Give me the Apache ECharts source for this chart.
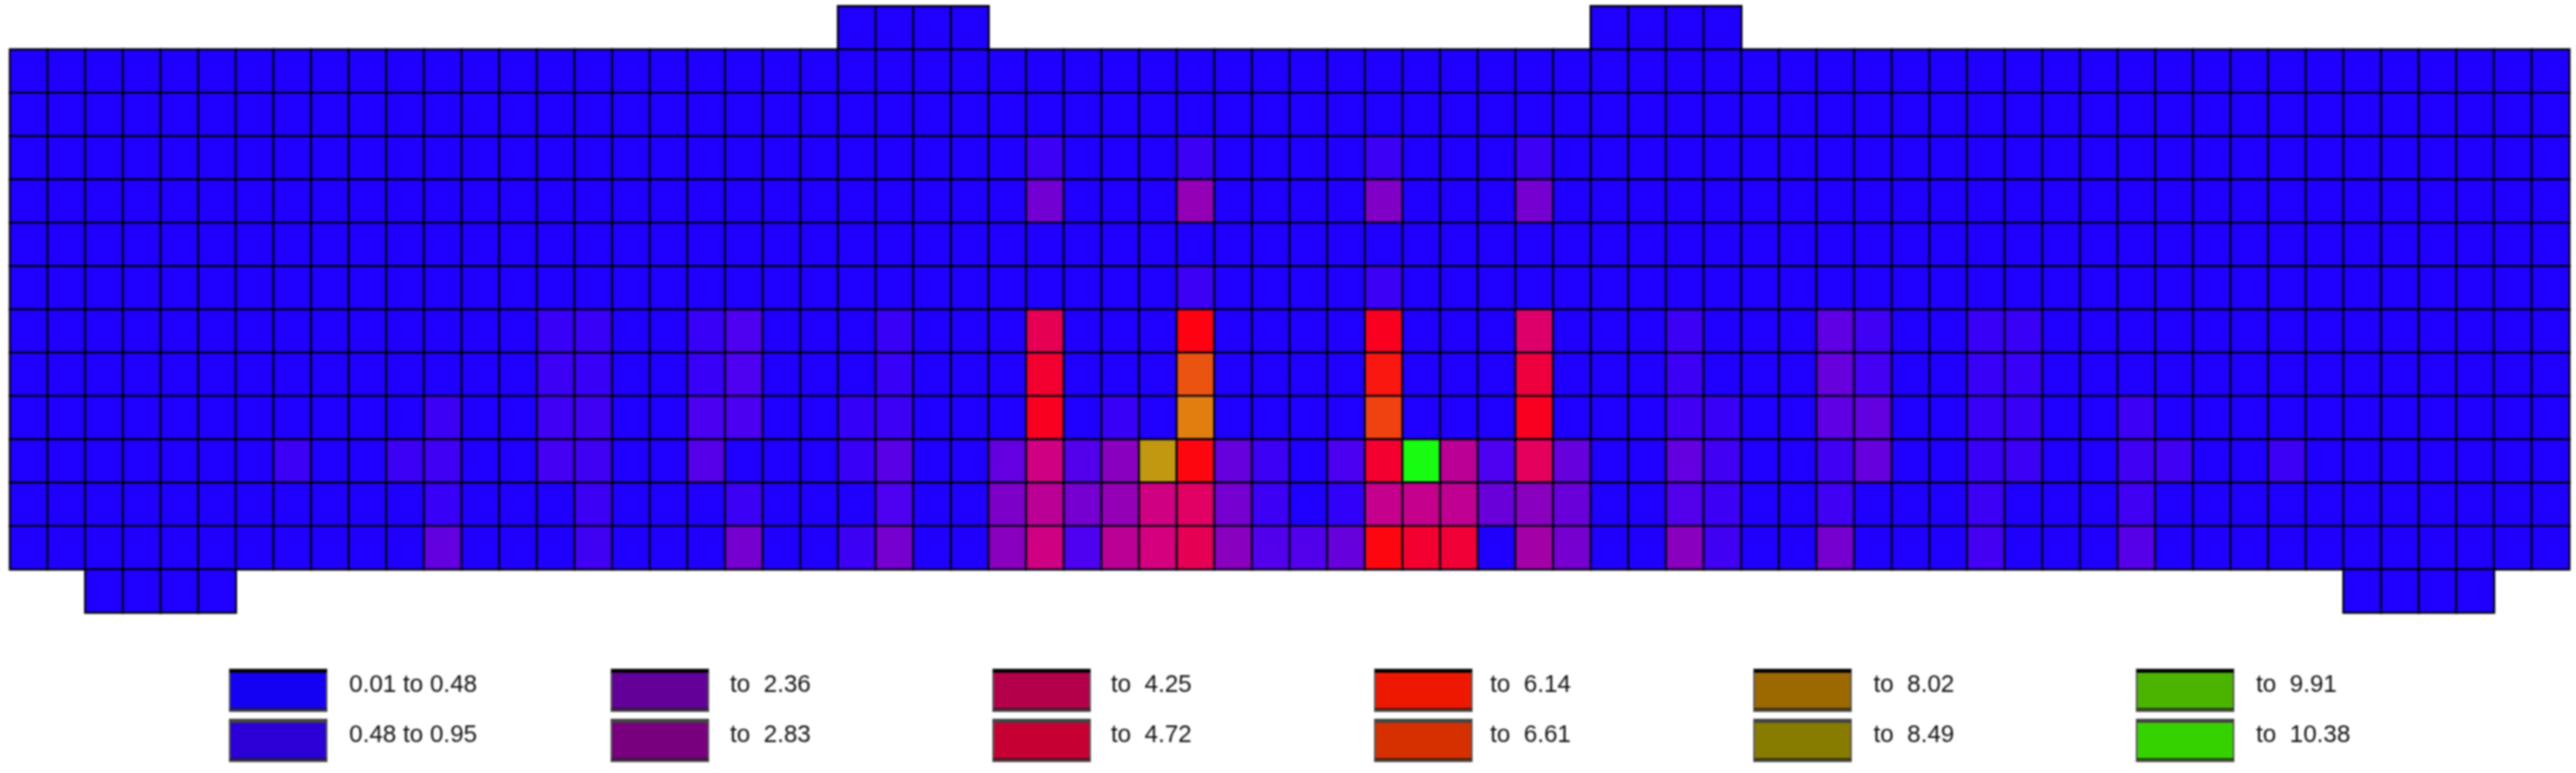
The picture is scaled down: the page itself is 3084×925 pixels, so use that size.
<!DOCTYPE html>
<html>
<head>
<meta charset="utf-8">
<style>html,body{margin:0;padding:0;background:#fff}#c{width:3084px;height:925px;filter:blur(0.8px)}</style>
<script src="https://cdn.jsdelivr.net/npm/echarts@6/dist/echarts.min.js"></script>
</head>
<body>
<div id="c"></div>
<script>
// Finite-element cells: each row lists 68 columns; null = no element there.
const rowTop = [
 null,null,null,null,null,null,null,null,null,null, null,null,null,null,null,null,null,null,null,null,
 null,null,.2,.2,.2,.2,null,null,null,null, null,null,null,null,null,null,null,null,null,null,
 null,null,.2,.2,.2,.2,null,null,null,null, null,null,null,null,null,null,null,null,null,null,
 null,null,null,null,null,null,null,null];
const row0 = [
 .2,.2,.2,.2,.2,.2,.2,.2,.2,.2, .2,.2,.2,.2,.2,.2,.2,.2,.2,.2, .2,.2,.2,.2,.2,.2,.2,.2,.2,.2,
 .2,.2,.2,.2,.2,.2,.2,.2,.2,.2, .2,.2,.2,.2,.2,.2,.2,.2,.2,.2, .2,.2,.2,.2,.2,.2,.2,.2,.2,.2,
 .2,.2,.2,.2,.2,.2,.2,.2];
const row1 = [
 .2,.2,.2,.2,.2,.2,.2,.2,.2,.2, .2,.2,.2,.2,.2,.2,.2,.2,.2,.2, .2,.2,.2,.2,.2,.2,.2,.2,.2,.2,
 .2,.2,.2,.2,.2,.2,.2,.2,.2,.2, .2,.2,.2,.2,.2,.2,.2,.2,.2,.2, .2,.2,.2,.2,.2,.2,.2,.2,.2,.2,
 .2,.2,.2,.2,.2,.2,.2,.2];
const row2 = [
 .2,.2,.2,.2,.2,.2,.2,.2,.2,.2, .2,.2,.2,.2,.2,.2,.2,.2,.2,.2, .2,.2,.2,.2,.2,.2,.2,1,.2,.2,
 .2,1,.2,.2,.2,.2,1,.2,.2,.2, 1,.2,.2,.2,.2,.2,.2,.2,.2,.2, .2,.2,.2,.2,.2,.2,.2,.2,.2,.2,
 .2,.2,.2,.2,.2,.2,.2,.2];
const row3 = [
 .2,.2,.2,.2,.2,.2,.2,.2,.2,.2, .2,.2,.2,.2,.2,.2,.2,.2,.2,.2, .2,.2,.2,.2,.2,.2,.2,2.4,.2,.2,
 .2,3.2,.2,.2,.2,.2,2.8,.2,.2,.2, 2.5,.2,.2,.2,.2,.2,.2,.2,.2,.2, .2,.2,.2,.2,.2,.2,.2,.2,.2,.2,
 .2,.2,.2,.2,.2,.2,.2,.2];
const row4 = [
 .2,.2,.2,.2,.2,.2,.2,.2,.2,.2, .2,.2,.2,.2,.2,.2,.2,.2,.2,.2, .2,.2,.2,.2,.2,.2,.2,.2,.2,.2,
 .2,.2,.2,.2,.2,.2,.2,.2,.2,.2, .2,.2,.2,.2,.2,.2,.2,.2,.2,.2, .2,.2,.2,.2,.2,.2,.2,.2,.2,.2,
 .2,.2,.2,.2,.2,.2,.2,.2];
const row5 = [
 .2,.2,.2,.2,.2,.2,.2,.2,.2,.2, .2,.2,.2,.2,.2,.2,.2,.2,.2,.2, .2,.2,.2,.2,.2,.2,.2,.2,.2,.2,
 .2,1,.2,.2,.2,.2,1,.2,.2,.2, .2,.2,.2,.2,.2,.2,.2,.2,.2,.2, .2,.2,.2,.2,.2,.2,.2,.2,.2,.2,
 .2,.2,.2,.2,.2,.2,.2,.2];
const row6 = [
 .2,.2,.2,.2,.2,.2,.2,.2,.2,.2, .2,.2,.2,.2,.9,.9,.2,.2,.9,1.5, .2,.2,.2,.9,.2,.2,.2,5,.2,.2,
 .2,5.95,.2,.2,.2,.2,5.7,.2,.2,.2, 4.7,.2,.2,.2,1,.2,.2,.2,1.9,1.1, .2,.2,.9,.9,.2,.2,.2,.2,.2,.2,
 .2,.2,.2,.2,.2,.2,.2,.2];
const row7 = [
 .2,.2,.2,.2,.2,.2,.2,.2,.2,.2, .2,.2,.2,.2,1,.9,.2,.2,.9,1.5, .2,.2,.2,.9,.2,.2,.2,5.5,.2,.2,
 .2,6.9,.2,.2,.2,.2,6.2,.2,.2,.2, 5.3,.2,.2,.2,1,.2,.2,.2,2.1,1.2, .2,.2,.9,.9,.2,.2,.2,.2,.2,.2,
 .2,.2,.2,.2,.2,.2,.2,.2];
const row8 = [
 .2,.2,.2,.2,.2,.2,.2,.2,.2,.2, .2,1,.2,.2,1.1,1.1,.2,.2,1.4,1.4, .2,.2,.8,1,.2,.2,.2,5.7,.2,.9,
 .2,7.4,.2,.2,.2,.2,6.7,.2,.2,.2, 5.7,.2,.2,.2,1.1,.9,.2,.2,1.9,2, .2,.2,.9,.9,.2,.2,1,.2,.2,.2,
 .2,.2,.2,.2,.2,.2,.2,.2];
const row9 = [
 .2,.2,.2,.2,.2,.2,.2,1,.2,.2, 1,1.1,.2,.2,1.2,1.1,.2,.2,1.7,.2, .2,.2,.9,1.8,.2,.2,2,4.3,1.6,3,
 8,6,2.1,1,.2,1.4,5.5,10.3,3.9,1.5, 4.9,2.1,.2,.2,2,1.1,.2,.2,1.1,2.1, .2,.2,.9,1,.2,.2,1.1,1.1,.2,.2,
 1,.2,.2,.2,.2,.2,.2,.2];
const row10 = [
 .2,.2,.2,.2,.2,.2,.2,.2,.2,.2, .2,.9,.2,.2,.2,1,.2,.2,.2,1, .2,.2,.2,1.5,.2,.2,2.7,3.9,2.5,3.2,
 4.3,4.8,2.5,1,.2,.7,4.1,4.1,4,2.2, 3,2.2,.2,.2,1.6,1,.2,.2,1.1,.2, .2,.2,1,.2,.2,.2,1.1,.2,.2,.2,
 .2,.2,.2,.2,.2,.2,.2,.2];
const row11 = [
 .2,.2,.2,.2,.2,.2,.2,.2,.2,.2, .2,2,.2,.2,.2,1.1,.2,.2,.2,2.5, .2,.2,1,2.5,.2,.2,3,4.3,1.5,3.9,
 4.4,5,3,1.6,1.6,2.1,6,5.5,5.4,.2, 3.5,2.5,.2,.2,3,1.1,.2,.2,2.5,.2, .2,.2,1.2,.2,.2,.2,1.7,.2,.2,.2,
 .2,.2,.2,.2,.2,.2,.2,.2];
const rowBottom = [
 null,null,.2,.2,.2,.2,null,null,null,null, null,null,null,null,null,null,null,null,null,null,
 null,null,null,null,null,null,null,null,null,null, null,null,null,null,null,null,null,null,null,null,
 null,null,null,null,null,null,null,null,null,null, null,null,null,null,null,null,null,null,null,null,
 null,null,.2,.2,.2,.2,null,null];
const cellRows = [rowTop,row0,row1,row2,row3,row4,row5,row6,row7,row8,row9,row10,row11,rowBottom];

// Legend contents, read column by column.
const legendLabels = [
  ['0.01 to 0.48','0.48 to 0.95'],
  ['to  2.36','to  2.83'],
  ['to  4.25','to  4.72'],
  ['to  6.14','to  6.61'],
  ['to  8.02','to  8.49'],
  ['to  9.91','to  10.38']
];
const legendColors = [
  ['#1400f2','#2a00d6'],
  ['#620098','#78007f'],
  ['#b4004a','#c60032'],
  ['#ee1800','#d63000'],
  ['#9c6800','#887c00'],
  ['#4ab400','#36d200']
];
const swatchX = [275,732,1189,1646,2100,2558];
const textX = [418,874,1330,1784,2243,2701];
const swatchY = [801,861];
const swatchW = 116, swatchH = 50;

// Colour ramp of the cells, blue -> red -> green.
const rampColors = ['#1800ff','#4e00f0','#8800c0','#d8007c','#ff0010','#e08010','#90c010','#10ff10'];
const valueMin = 0.01, valueMax = 10.38;

const data = [];
cellRows.forEach((r,y)=>r.forEach((v,x)=>{ if(v!==null) data.push([x,y,v]); }));

const graphic = [];
legendColors.forEach((col,i)=>col.forEach((color,j)=>{
  const x=swatchX[i], y=swatchY[j];
  graphic.push({type:'rect',silent:true,shape:{x:x,y:y,width:swatchW,height:swatchH},
    style:{fill:color,stroke:'#555',lineWidth:2}});
  graphic.push({type:'rect',silent:true,shape:{x:x,y:y,width:swatchW,height:4},
    style:{fill:j===0?'#000':'#444'}});
  graphic.push({type:'rect',silent:true,shape:{x:x,y:y+swatchH-4,width:swatchW,height:3},
    style:{fill:'#222',opacity:.75}});
  graphic.push({type:'text',silent:true,x:textX[i],y:y+19,
    style:{text:legendLabels[i][j],fill:'#111',font:'29px "Liberation Sans"',
      textAlign:'left',textVerticalAlign:'middle',textBaseline:'middle'}});
}));

const chart = echarts.init(document.getElementById('c'),null,{renderer:'canvas'});
chart.setOption({
  animation:false,
  backgroundColor:'#fff',
  grid:{left:12,top:7.5,width:3064,height:725.5,containLabel:false},
  xAxis:{type:'category',data:cellRows[1].map((_,i)=>i),show:false},
  yAxis:{type:'category',inverse:true,data:cellRows.map((_,i)=>i),show:false},
  visualMap:{show:false,type:'continuous',min:valueMin,max:valueMax,dimension:2,seriesIndex:0,
    inRange:{color:rampColors}},
  series:[{type:'heatmap',data:data,
    itemStyle:{borderColor:'#000010',borderWidth:2.4},
    emphasis:{disabled:true},progressive:0}],
  graphic:graphic
});
</script>
</body>
</html>
